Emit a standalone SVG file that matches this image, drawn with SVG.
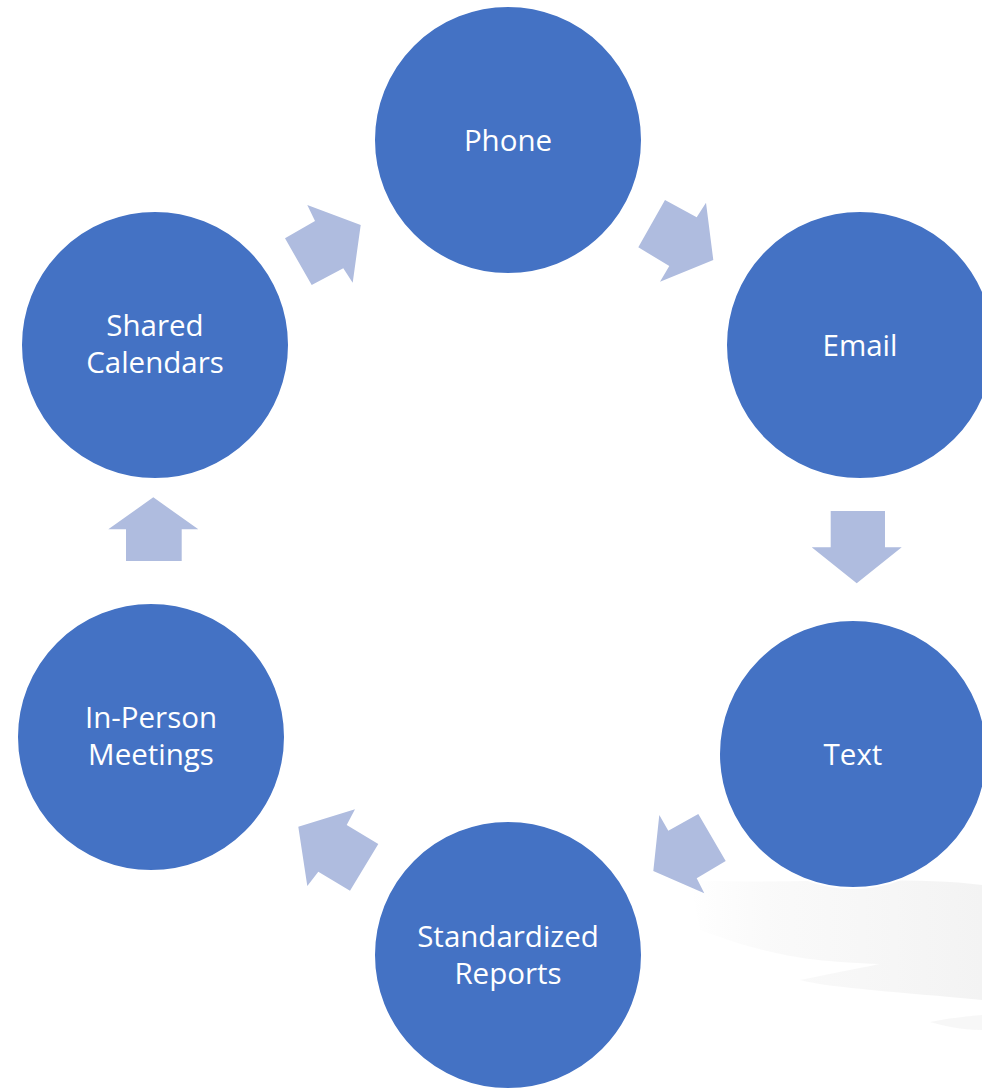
<svg xmlns="http://www.w3.org/2000/svg" width="982" height="1088" viewBox="0 0 982 1088">
<defs>
<style>
.node{fill:#4472C4;stroke:#ffffff;stroke-width:2}
.lbl{fill:#ffffff;font-family:"Open Sans","Liberation Sans",sans-serif;font-size:29.5px;text-anchor:middle}
.arr{fill:#AFBCDF}
</style>
<linearGradient id="sw" x1="0" y1="0" x2="1" y2="0">
<stop offset="0" stop-color="#f7f7f7" stop-opacity="0"/>
<stop offset="0.3" stop-color="#f8f8f8" stop-opacity="0.8"/>
<stop offset="1" stop-color="#f3f3f3" stop-opacity="1"/>
</linearGradient>
</defs>
<rect width="982" height="1088" fill="#ffffff"/>
<g id="background">
<path d="M690,880 C780,885 900,875 982,885 L982,1000 C900,992 830,988 800,980 C850,970 880,964 880,964 C800,962 760,952 700,930 Z" fill="url(#sw)"/>
<path d="M930,1022 C950,1018 970,1016 982,1015 L982,1030 C960,1030 945,1026 930,1022 Z" fill="#f3f3f3" opacity="0.7"/>
</g>
<g id="connectors">
<polygon class="arr" points="307.3,205 315,221 285,238.3 311.7,285 343.3,268.3 352.7,282.7 360.7,225"/>
<polygon class="arr" points="665,200 696.7,217.3 706,202.7 713.3,260 660,281.7 669.3,266 638.3,247.3"/>
<polygon class="arr" points="830.7,511 885,511 885,547.3 901.7,547.3 856.7,583.3 811.7,547.3 830.7,547.3"/>
<polygon class="arr" points="698.3,814 725.7,861 696.7,878.3 704.3,893.3 653.3,871 659.3,815 668.3,830.7"/>
<polygon class="arr" points="355,809.3 346.7,825 378.3,844 350,890.7 318.3,871.7 307.3,886 298.3,826.7"/>
<polygon class="arr" points="153.3,497.3 198.3,529.3 181.7,529.3 181.7,561 126,561 126,529.3 108.3,529.3"/>
</g>
<g id="phone"><circle class="node" cx="508" cy="140" r="134"/><text class="lbl" x="508" y="151">Phone</text></g>
<g id="email"><circle class="node" cx="860" cy="345" r="134"/><text class="lbl" x="860" y="356">Email</text></g>
<g id="text"><circle class="node" cx="853" cy="754" r="134"/><text class="lbl" x="853" y="765">Text</text></g>
<g id="reports"><circle class="node" cx="508" cy="955" r="134"/><text class="lbl" x="508" y="947">Standardized</text><text class="lbl" x="508" y="984">Reports</text></g>
<g id="meetings"><circle class="node" cx="151" cy="737" r="134"/><text class="lbl" x="151" y="728">In-Person</text><text class="lbl" x="151" y="765">Meetings</text></g>
<g id="calendars"><circle class="node" cx="155" cy="345" r="134"/><text class="lbl" x="155" y="336">Shared</text><text class="lbl" x="155" y="373">Calendars</text></g>
</svg>
